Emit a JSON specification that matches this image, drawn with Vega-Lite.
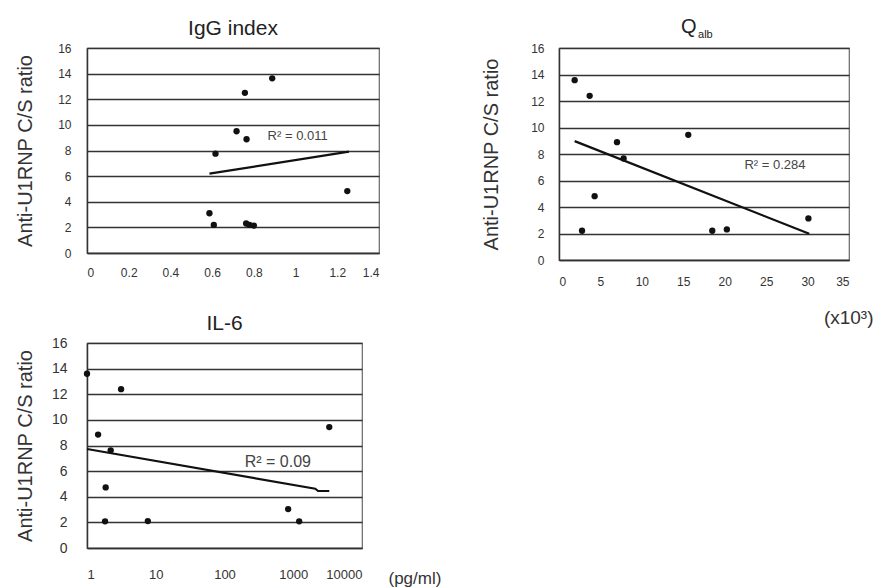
{
  "$schema": "https://vega.github.io/schema/vega-lite/v6.json",
  "padding": {"left": 14, "top": 16, "right": 2, "bottom": 2},
  "background": "white",
  "config": {
    "font": "Liberation Sans",
    "view": {"stroke": "#666", "strokeWidth": 1.2},
    "axis": {
      "domainColor": "#333", "domainWidth": 1.5,
      "gridColor": "#333", "gridWidth": 1.4, "gridOpacity": 1,
      "labelColor": "#333", "titleColor": "#333", "titleFontWeight": "normal",
      "ticks": false
    },
    "title": {"color": "#222", "fontWeight": "normal"}
  },
  "vconcat": [
    {
      "bounds": "flush",
      "hconcat": [
        {
          "width": 292, "height": 205,
          "title": {"text": "IgG index", "fontSize": 21, "offset": 3},
          "encoding": {
            "x": {"field": "x", "type": "quantitative", "scale": {"domain": [0, 1.4], "nice": false},
                  "axis": {"values": [0, 0.2, 0.4, 0.6, 0.8, 1, 1.2, 1.4], "format": "~g", "grid": false, "title": null, "labelFontSize": 12, "labelPadding": 14}},
            "y": {"field": "y", "type": "quantitative", "scale": {"domain": [0, 16], "nice": false},
                  "axis": {"values": [0, 2, 4, 6, 8, 10, 12, 14, 16], "grid": true, "title": "Anti-U1RNP C/S ratio", "titleFontSize": 20, "titleX": -62, "titleBaseline": "middle", "labelFontSize": 12, "labelPadding": 16}}
          },
          "layer": [
            {"data": {"values": [{"x":0.888,"y":13.63},{"x":0.757,"y":12.5},{"x":0.717,"y":9.5},{"x":0.765,"y":8.88},{"x":0.616,"y":7.75},{"x":1.248,"y":4.83},{"x":0.587,"y":3.1},{"x":0.608,"y":2.19},{"x":0.763,"y":2.3},{"x":0.779,"y":2.19},{"x":0.8,"y":2.14}]},
             "mark": {"type": "circle", "size": 40, "color": "#111", "opacity": 1}},
            {"data": {"values": [{"x":0.587,"y":6.19},{"x":1.256,"y":7.91}]},
             "mark": {"type": "line", "color": "#111", "strokeWidth": 2.2}},
            {"data": {"values": [{"x":1.01,"y":9.14,"label":"R² = 0.011"}]},
             "mark": {"type": "text", "fontSize": 13, "color": "#444"},
             "encoding": {"text": {"field": "label"}}}
          ]
        },
        {
          "width": 290, "height": 212,
          "title": {"text": "Q", "fontSize": 20, "anchor": "start", "frame": "group", "dx": 122, "offset": -8},
          "encoding": {
            "x": {"field": "x", "type": "quantitative", "scale": {"domain": [0, 35], "nice": false},
                  "axis": {"values": [0, 5, 10, 15, 20, 25, 30, 35], "grid": false, "title": "(x10³)", "titleFontSize": 19, "titleAlign": "right", "titleBaseline": "middle", "titleX": 314, "titleY": 57, "labelFontSize": 12, "labelPadding": 16}},
            "y": {"field": "y", "type": "quantitative", "scale": {"domain": [0, 16], "nice": false},
                  "axis": {"values": [0, 2, 4, 6, 8, 10, 12, 14, 16], "grid": true, "title": "Anti-U1RNP C/S ratio", "titleFontSize": 20, "titleX": -68, "titleBaseline": "middle", "labelFontSize": 12, "labelPadding": 15}}
          },
          "layer": [
            {"data": {"values": [{"x":1.89,"y":13.57},{"x":3.7,"y":12.39},{"x":7.0,"y":8.89},{"x":7.8,"y":7.66},{"x":15.6,"y":9.45},{"x":4.3,"y":4.82},{"x":2.78,"y":2.21},{"x":18.5,"y":2.21},{"x":20.26,"y":2.31},{"x":30.1,"y":3.14}]},
             "mark": {"type": "circle", "size": 40, "color": "#111", "opacity": 1}},
            {"data": {"values": [{"x":1.89,"y":8.97},{"x":30.2,"y":1.98}]},
             "mark": {"type": "line", "color": "#111", "strokeWidth": 2.2}},
            {"data": {"values": [{"x":26.06,"y":7.16,"label":"R² = 0.284"}]},
             "mark": {"type": "text", "fontSize": 13, "color": "#444"},
             "encoding": {"text": {"field": "label"}}},
            {"data": {"values": [{"x":16.78,"y":16.72,"label":"alb"}]},
             "mark": {"type": "text", "fontSize": 11, "color": "#222", "align": "left", "baseline": "alphabetic"},
             "encoding": {"text": {"field": "label"}}}
          ]
        }
      ],
      "spacing": 180
    },
    {
      "width": 275, "height": 205,
      "title": {"text": "IL-6", "fontSize": 21, "offset": 2},
      "encoding": {
        "x": {"field": "x", "type": "quantitative", "scale": {"type": "log", "domain": [1, 10000], "nice": false},
              "axis": {"values": [1, 10, 100, 1000, 10000], "format": "d", "grid": false, "title": "(pg/ml)", "titleFontSize": 17, "titleAlign": "left", "titleBaseline": "middle", "titleX": 301, "titleY": 30, "labelFontSize": 13, "labelPadding": 20}},
        "y": {"field": "y", "type": "quantitative", "scale": {"domain": [0, 16], "nice": false},
              "axis": {"values": [0, 2, 4, 6, 8, 10, 12, 14, 16], "grid": true, "title": "Anti-U1RNP C/S ratio", "titleFontSize": 20, "titleX": -62, "titleBaseline": "middle", "labelFontSize": 14, "labelPadding": 20}}
      },
      "layer": [
        {"data": {"values": [{"x":1,"y":13.6},{"x":3.13,"y":12.4},{"x":1.45,"y":8.85},{"x":2.21,"y":7.62},{"x":1.87,"y":4.73},{"x":1.83,"y":2.08},{"x":7.67,"y":2.1},{"x":3342,"y":9.44},{"x":843,"y":3.04},{"x":1219,"y":2.08}]},
         "mark": {"type": "circle", "size": 40, "color": "#111", "opacity": 1}},
        {"data": {"values": [{"x":1,"y":7.73},{"x":2089,"y":4.63},{"x":2300,"y":4.45},{"x":3342,"y":4.45}]},
         "mark": {"type": "line", "color": "#111", "strokeWidth": 2.2}},
        {"data": {"values": [{"x":596,"y":6.69,"label":"R² = 0.09"}]},
         "mark": {"type": "text", "fontSize": 16, "color": "#444"},
         "encoding": {"text": {"field": "label"}}}
      ]
    }
  ],
  "spacing": -16
}
